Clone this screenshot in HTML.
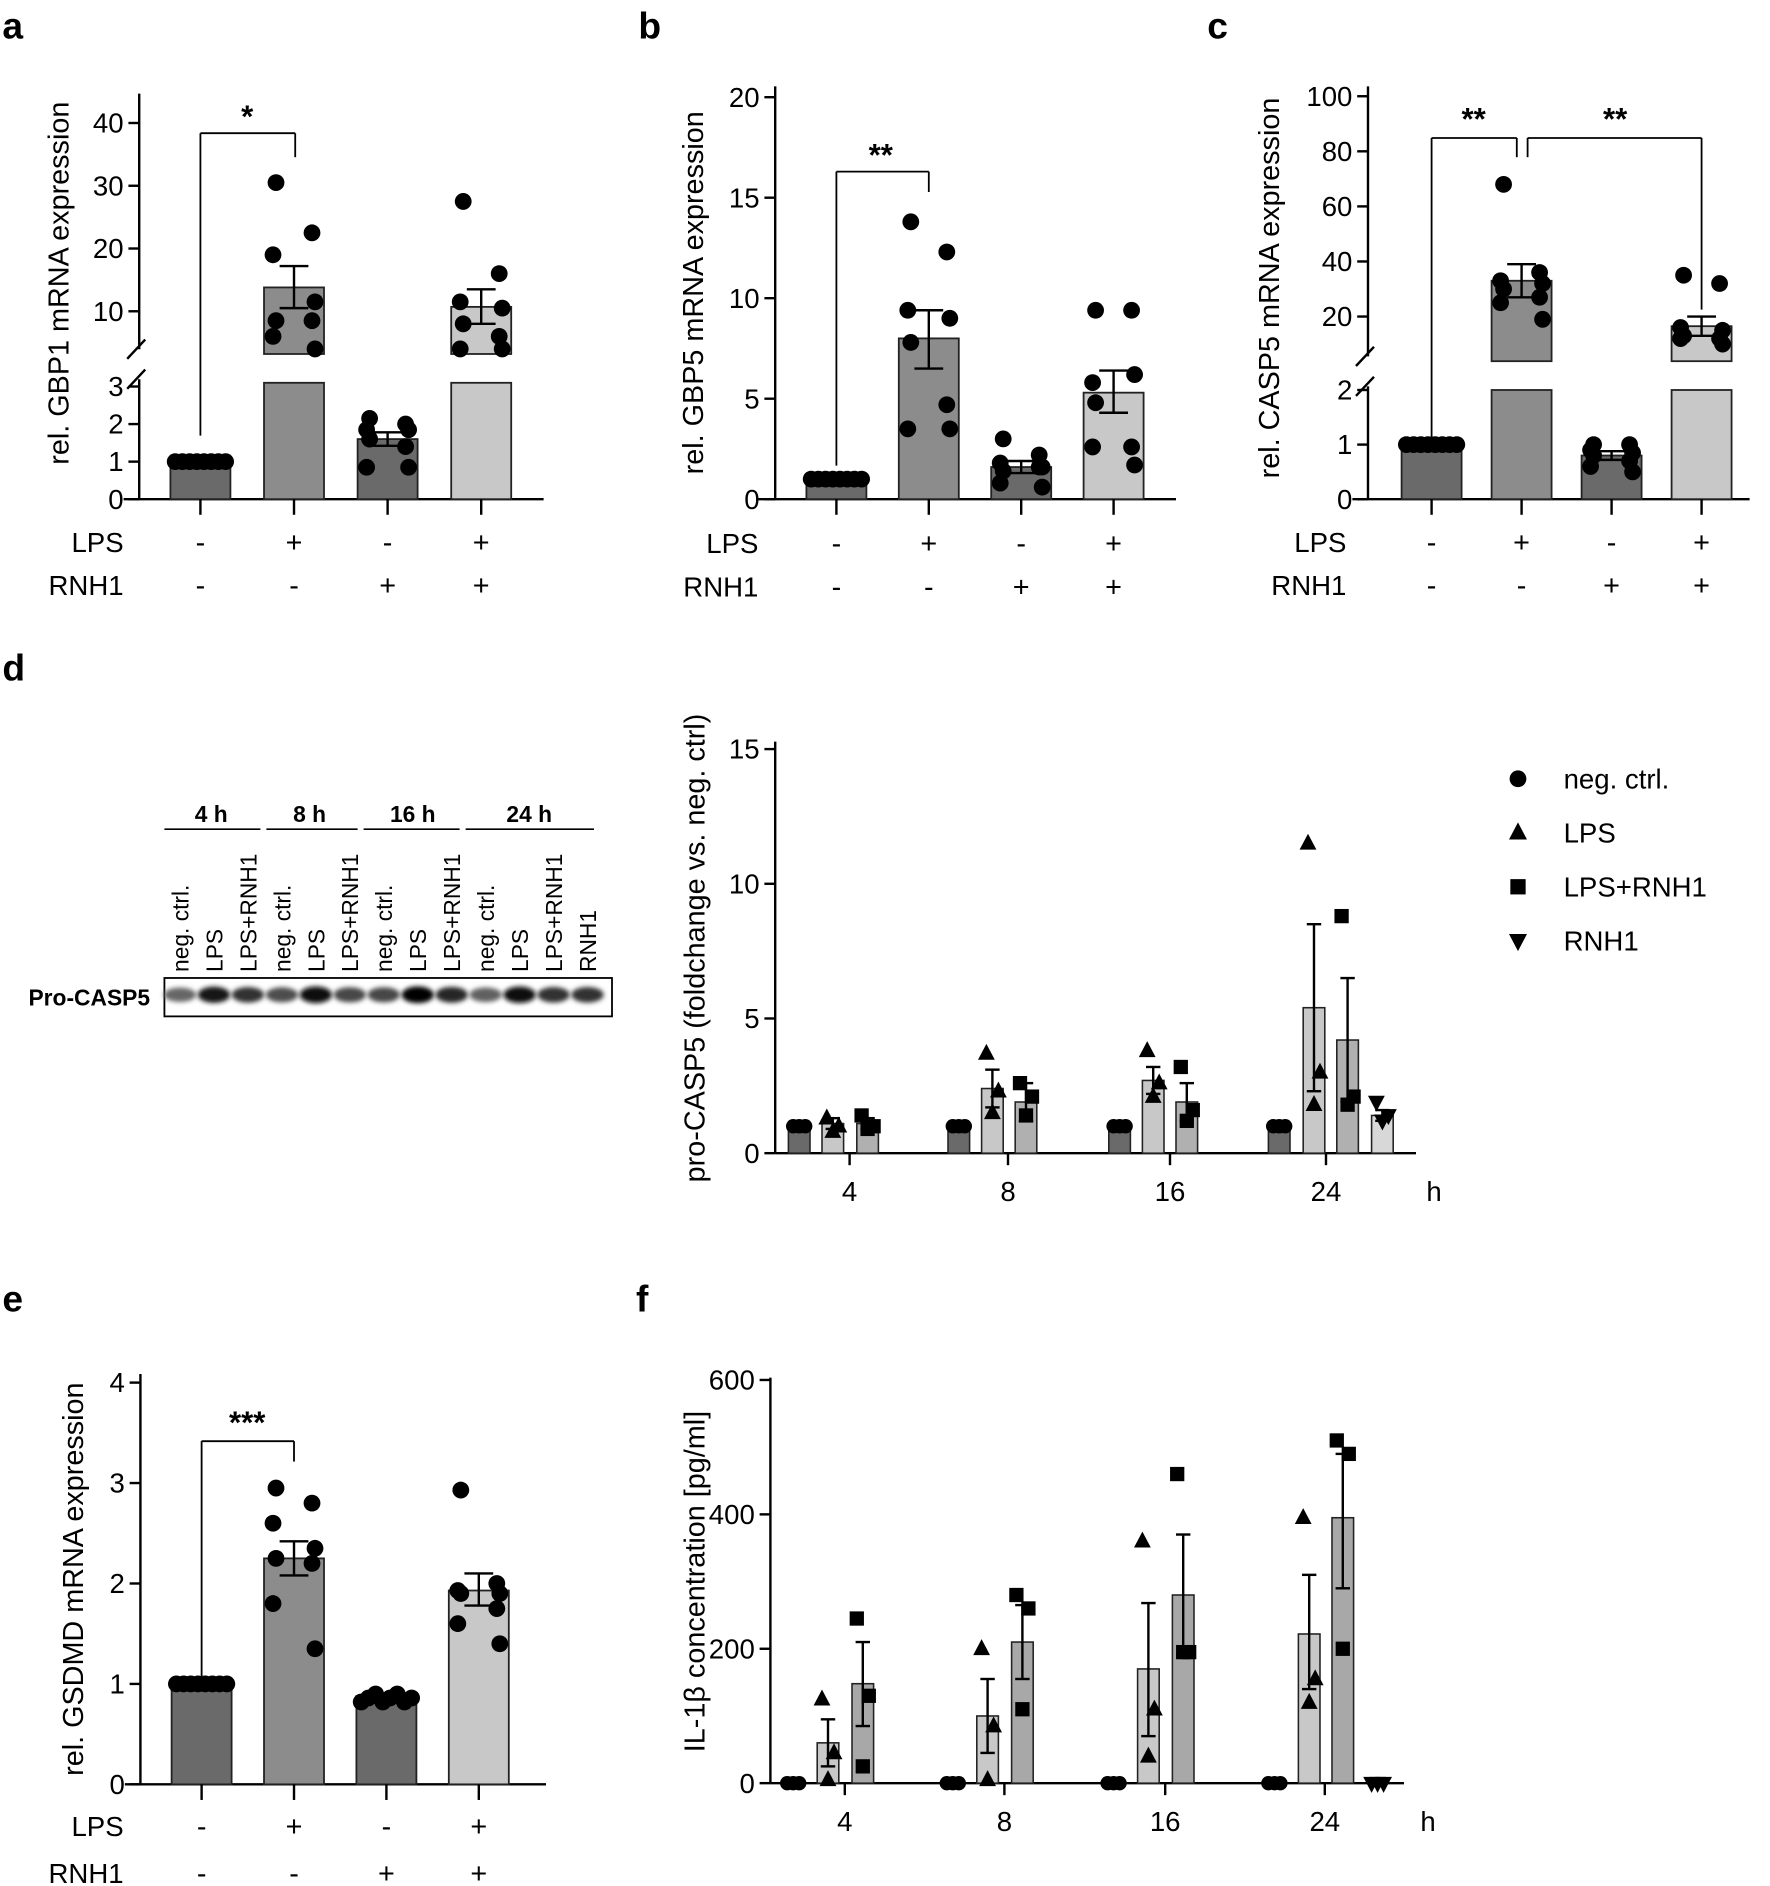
<!DOCTYPE html>
<html><head><meta charset="utf-8">
<style>
html,body{margin:0;padding:0;background:#fff;}
svg{display:block;font-family:"Liberation Sans",Arial,sans-serif;}
</style></head>
<body>
<svg id="s" width="1770" height="1886" viewBox="0 0 1475 1571.7" xmlns="http://www.w3.org/2000/svg">
<defs><filter id="bl" x="-50%" y="-100%" width="200%" height="300%"><feGaussianBlur stdDeviation="2"/></filter></defs>
<g font-weight="bold" font-size="31">
<text x="2" y="32">a</text><text x="532" y="32">b</text><text x="1006" y="32">c</text>
<text x="2" y="567">d</text><text x="2" y="1093">e</text><text x="530" y="1093">f</text>
</g>
<g font-size="23">
<text x="103" y="460" text-anchor="end">LPS</text><text x="103" y="496" text-anchor="end">RNH1</text>
<text x="632" y="461" text-anchor="end">LPS</text><text x="632" y="497" text-anchor="end">RNH1</text>
<text x="1122" y="460" text-anchor="end">LPS</text><text x="1122" y="496" text-anchor="end">RNH1</text>
<text x="103" y="1530" text-anchor="end">LPS</text><text x="103" y="1569" text-anchor="end">RNH1</text>
</g>
<g font-size="24" text-anchor="middle">
<text transform="translate(57,236) rotate(-90)">rel. GBP1 mRNA expression</text>
<text transform="translate(586,244) rotate(-90)">rel. GBP5 mRNA expression</text>
<text transform="translate(1066,240) rotate(-90)">rel. CASP5 mRNA expression</text>
<text transform="translate(587,790) rotate(-90)">pro-CASP5 (foldchange vs. neg. ctrl)</text>
<text transform="translate(69,1316) rotate(-90)">rel. GSDMD mRNA expression</text>
<text transform="translate(587,1318) rotate(-90)">IL-1β concentration [pg/ml]</text>
</g>
<g font-size="23">
<text x="1303" y="657">neg. ctrl.</text><text x="1303" y="702">LPS</text>
<text x="1303" y="747">LPS+RNH1</text><text x="1303" y="792">RNH1</text>
</g>
<g id="g"></g>
</svg>
<script>
var NS="http://www.w3.org/2000/svg",G=document.getElementById('g');
function el(t,a,txt){var e=document.createElementNS(NS,t);for(var k in a)e.setAttribute(k,a[k]);if(txt!=null)e.textContent=txt;G.appendChild(e);return e;}
function line(x1,y1,x2,y2,w){el('line',{x1:x1,y1:y1,x2:x2,y2:y2,stroke:'#000','stroke-width':w||2});}
function txt(x,y,s,fs,anc,extra){var a={x:x,y:y,'font-size':fs||20,'text-anchor':anc||'middle'};for(var k in extra)a[k]=extra[k];el('text',a,s);}
function mark(t,x,y,r){
 if(t=='c')el('circle',{cx:x,cy:y,r:r});
 else if(t=='t')el('polygon',{points:(x)+','+(y-r*1.15)+' '+(x-r)+','+(y+r*0.75)+' '+(x+r)+','+(y+r*0.75)});
 else if(t=='s')el('rect',{x:x-r*0.85,y:y-r*0.85,width:r*1.7,height:r*1.7});
 else if(t=='v')el('polygon',{points:(x)+','+(y+r*1.15)+' '+(x-r)+','+(y-r*0.75)+' '+(x+r)+','+(y-r*0.75)});
}
function spread(x,pts,w){var n=pts.length,out=[];for(var i=0;i<n;i++){var off=((i%3)-1)*w*0.36; if(n>4)off=[ -0.3,0.3,-0.35,0.35,-0.3,0.3,-0.35,0.35][i]*w; out.push([x+off,pts[i]]);}return out;}
function errbar(x,y1,y2,cw){line(x,y1,x,y2,2);line(x-cw,y1,x+cw,y1,2);line(x-cw,y2,x+cw,y2,2);}
var TF=23;
function drawBars(P){
 P.bars.forEach(function(b,i){
  var x=P.cx[i],w=50,v=b.v,m=P.map;
  if(P.brk!=null && v>P.brk){
   el('rect',{x:x-w/2,y:m(v),width:w,height:P.brkU+4-m(v),fill:b.c,stroke:'#222','stroke-width':1.5});
   el('rect',{x:x-w/2,y:P.brkL+3,width:w,height:P.y0-P.brkL-3,fill:b.c,stroke:'#222','stroke-width':1.5});
  } else el('rect',{x:x-w/2,y:m(v),width:w,height:P.y0-m(v),fill:b.c,stroke:'#222','stroke-width':1.5});
  if(b.e)errbar(x,m(b.e[0]),m(b.e[1]),12);
  if(b.allSame){for(var k=0;k<8;k++)mark('c',x-21+k*6,m(b.allSame==2?(0.82+0.04*(k%3)):b.v),7);}
  else spread(x,b.p,w).forEach(function(q){mark('c',q[0],m(q[1]),7);});
  line(x,P.y0,x,P.y0+13,2);
  txt(x,P.r1,b.l1,24);txt(x,P.r2,b.l2,24);
 });
}
function brokenPanel(P){
 var ax=P.ax;
 line(ax,P.top,ax,P.brkU,2);line(ax,P.brkL,ax,P.y0,2);
 line(ax-10,P.brkU+8,ax+5,P.brkU-8,2);line(ax-10,P.brkL+8,ax+5,P.brkL-8,2);
 line(P.x0,P.y0,P.x1,P.y0,2);
 P.ticks.forEach(function(t){var y=P.map(t);line(ax-9,y,ax,y,2);txt(ax-13,y+8,String(t),TF,'end');});
 drawBars(P);
}
function simplePanel(P){
 var ax=P.ax;line(ax,P.top,ax,P.y0,2);line(P.x0,P.y0,P.x1,P.y0,2);
 P.ticks.forEach(function(t){var y=P.map(t);line(ax-9,y,ax,y,2);txt(ax-13,y+8,String(t),TF,'end');});
 drawBars(P);
}
// a
brokenPanel({ax:116,top:78,brkU:291,brkL:316,y0:416,x0:103,x1:453,brk:3,r1:460,r2:496,
 map:function(v){return v<=3?416-31.3*v:311.7-5.23*v;},ticks:[0,1,2,3,10,20,30,40],cx:[167,245,323,401],
 bars:[{v:1,c:'#6a6a6a',allSame:1,l1:'-',l2:'-'},
 {v:13.8,c:'#8c8c8c',e:[10.5,17.2],p:[30.5,22.5,19,11.5,8.5,8.5,6,4],l1:'+',l2:'-'},
 {v:1.6,c:'#6a6a6a',e:[1.42,1.78],p:[2.15,2.0,1.85,1.85,1.6,1.4,0.85,0.85],l1:'-',l2:'+'},
 {v:10.7,c:'#c8c8c8',e:[8,13.5],p:[27.5,16,11.5,10.5,8,6,4,4],l1:'+',l2:'+'}]});
line(167,363,167,111,1.5);line(167,111,246,111,1.5);line(246,111,246,131,1.5);
txt(206,106,'*',26,'middle',{'font-weight':'bold'});
// b
simplePanel({ax:646,top:72,y0:416,x0:632,x1:980,r1:461,r2:497,map:function(v){return 416-16.75*v;},ticks:[0,5,10,15,20],cx:[697,774,851,928],
 bars:[{v:1,c:'#6a6a6a',allSame:1,l1:'-',l2:'-'},
 {v:8.0,c:'#8c8c8c',e:[6.5,9.4],p:[13.8,12.3,9.4,9.0,7.8,4.7,3.5,3.5],l1:'+',l2:'-'},
 {v:1.6,c:'#6a6a6a',e:[1.3,1.9],p:[3.0,2.2,1.8,1.6,1.4,1.6,0.8,0.6],l1:'-',l2:'+'},
 {v:5.3,c:'#c8c8c8',e:[4.3,6.4],p:[9.4,9.4,5.8,6.2,4.8,2.6,2.6,1.7],l1:'+',l2:'+'}]});
line(697,143,774,143,1.5);line(697,143,697,388,1.5);line(774,143,774,160,1.5);
txt(734,138,'**',26,'middle',{'font-weight':'bold'});
// c
brokenPanel({ax:1140,top:72,brkU:297,brkL:322,y0:416,x0:1127,x1:1458,brk:2,r1:460,r2:496,
 map:function(v){return v<=2?416-45.5*v:309.7-2.295*v;},ticks:[0,1,2,20,40,60,80,100],cx:[1193,1268,1343,1418],
 bars:[{v:1,c:'#6a6a6a',allSame:1,l1:'-',l2:'-'},
 {v:33,c:'#8c8c8c',e:[27,39],p:[68,36,33,32,30,27,25,19],l1:'+',l2:'-'},
 {v:0.8,c:'#6a6a6a',e:[0.72,0.88],p:[1.0,1.0,0.9,0.85,0.8,0.7,0.6,0.5],l1:'-',l2:'+'},
 {v:16.5,c:'#c8c8c8',e:[13,20],p:[35,32,16,15,13,12,12,10],l1:'+',l2:'+'}]});
line(1193,115,1193,368,1.5);line(1193,115,1264,115,1.5);line(1264,115,1264,131,1.5);
line(1273,131,1273,115,1.5);line(1273,115,1418,115,1.5);line(1418,115,1418,258,1.5);
txt(1228,108,'**',26,'middle',{'font-weight':'bold'});txt(1346,108,'**',26,'middle',{'font-weight':'bold'});
// e
simplePanel({ax:117,top:1145,y0:1487,x0:104,x1:455,r1:1530,r2:1569,map:function(v){return 1487-83.7*v;},ticks:[0,1,2,3,4],cx:[168,245,322,399],
 bars:[{v:1.0,c:'#6a6a6a',allSame:1,l1:'-',l2:'-'},
 {v:2.25,c:'#8c8c8c',e:[2.08,2.42],p:[2.95,2.8,2.6,2.35,2.25,2.2,1.8,1.35],l1:'+',l2:'-'},
 {v:0.88,c:'#6a6a6a',allSame:2,l1:'-',l2:'+'},
 {v:1.93,c:'#c8c8c8',e:[1.78,2.1],p:[2.93,2.0,1.93,1.9,1.9,1.75,1.6,1.4],l1:'+',l2:'+'}]});
line(168,1201,168,1400,1.5);line(168,1201,245,1201,1.5);line(245,1201,245,1218,1.5);
txt(206,1194,'***',26,'middle',{'font-weight':'bold'});
function grouped(G2){var ax=G2.ax,y0=G2.y0,m=G2.map;
 line(ax,G2.top,ax,y0,2);line(ax,y0,G2.x1,y0,2);
 G2.ticks.forEach(function(t){line(ax-9,m(t),ax,m(t),2);txt(ax-13,m(t)+8,String(t),TF,'end');});
 G2.groups.forEach(function(g){line(g.c,y0,g.c,y0+10,2);txt(g.c,y0+40,g.l,23);});
 txt(G2.hx,y0+40,'h',23);
 G2.bars.forEach(function(b){var w=18;
  if(b.v>0)el('rect',{x:b.x-w/2,y:m(b.v),width:w,height:y0-m(b.v),fill:b.c,stroke:'#222','stroke-width':1.3});
  if(b.e)errbar(b.x,m(b.e[0]),m(b.e[1]),6);
  var off=[-5,5,0,-5,5];
  b.p.forEach(function(v,k){mark(b.t,b.x+(b.p.length>1?off[k]:0),m(v),b.t=='c'?6:7);});
 });
}
var CN='#6a6a6a',CL='#c8c8c8',CLR='#b0b0b0',CR='#d8d8d8';
grouped({ax:646,y0:961,top:618,x1:1180,hx:1195,map:function(v){return 961-22.45*v;},ticks:[0,5,10,15],
 groups:[{c:708,l:'4'},{c:840,l:'8'},{c:975,l:'16'},{c:1105,l:'24'}],
 bars:[{x:666,v:1,c:CN,t:'c',p:[1,1,1]},{x:694,v:1.1,c:CL,t:'t',e:[0.9,1.3],p:[1.3,1.0,0.8]},{x:723,v:1.1,c:CLR,t:'s',e:[0.9,1.3],p:[1.4,1.0,0.9]},
 {x:799,v:1,c:CN,t:'c',p:[1,1,1]},{x:827,v:2.4,c:CL,t:'t',e:[1.7,3.1],p:[3.7,2.3,1.5]},{x:855,v:1.9,c:CLR,t:'s',e:[1.2,2.6],p:[2.6,2.1,1.4]},
 {x:933,v:1,c:CN,t:'c',p:[1,1,1]},{x:961,v:2.7,c:CL,t:'t',e:[2.2,3.2],p:[3.8,2.6,2.1]},{x:989,v:1.9,c:CLR,t:'s',e:[1.2,2.6],p:[3.2,1.6,1.2]},
 {x:1066,v:1,c:CN,t:'c',p:[1,1,1]},{x:1095,v:5.4,c:CL,t:'t',e:[2.3,8.5],p:[11.5,3.0,1.8]},{x:1123,v:4.2,c:CLR,t:'s',e:[1.9,6.5],p:[8.8,2.1,1.8]},
 {x:1152,v:1.4,c:CR,t:'v',e:[1.2,1.6],p:[1.9,1.4,1.2]}]});
grouped({ax:642,y0:1486,top:1148,x1:1170,hx:1190,map:function(v){return 1486-0.56*v;},ticks:[0,200,400,600],
 groups:[{c:704,l:'4'},{c:837,l:'8'},{c:971,l:'16'},{c:1104,l:'24'}],
 bars:[{x:661,v:0,c:CN,t:'c',p:[0,0,0]},{x:690,v:60,c:CL,t:'t',e:[25,95],p:[125,45,5]},{x:719,v:148,c:'#a8a8a8',t:'s',e:[85,210],p:[245,130,25]},
 {x:794,v:0,c:CN,t:'c',p:[0,0,0]},{x:823,v:100,c:CL,t:'t',e:[45,155],p:[200,85,5]},{x:852,v:210,c:'#a8a8a8',t:'s',e:[155,265],p:[280,260,110]},
 {x:928,v:0,c:CN,t:'c',p:[0,0,0]},{x:957,v:170,c:CL,t:'t',e:[70,268],p:[360,110,40]},{x:986,v:280,c:'#a8a8a8',t:'s',e:[190,370],p:[460,195,195]},
 {x:1062,v:0,c:CN,t:'c',p:[0,0,0]},{x:1091,v:222,c:CL,t:'t',e:[140,310],p:[395,155,120]},{x:1119,v:395,c:'#a8a8a8',t:'s',e:[290,490],p:[510,490,200]},
 {x:1148,v:0,c:CR,t:'v',p:[0,0,0]}]});
mark('c',1265,649,7);mark('t',1265,694,7.5);mark('s',1265,739,7.5);mark('v',1265,784,7.5);
(function(){
 var lbl=['neg. ctrl.','LPS','LPS+RNH1','neg. ctrl.','LPS','LPS+RNH1','neg. ctrl.','LPS','LPS+RNH1','neg. ctrl.','LPS','LPS+RNH1','RNH1'];
 var inten=[0.6,0.9,0.8,0.7,0.97,0.72,0.72,1,0.85,0.62,0.95,0.8,0.8];
 [[176,'4 h'],[258,'8 h'],[344,'16 h'],[441,'24 h']].forEach(function(a){txt(a[0],685,a[1],19,'middle',{'font-weight':'bold'});});
 [[137,217],[222,298],[303,383],[388,495]].forEach(function(a){line(a[0],691,a[1],691,1.3);});
 el('rect',{x:137,y:815,width:373,height:32,fill:'#fff',stroke:'#000','stroke-width':1.5});
 for(var i=0;i<13;i++){var x=150+i*28.3;
  txt(0,0,lbl[i],19,'start',{transform:'translate('+(x+7)+',810) rotate(-90)'});
  var g=Math.round(255*(1-inten[i]));
  el('ellipse',{cx:x,cy:829,rx:13.5,ry:4.5+2.5*inten[i],fill:'rgb('+g+','+g+','+g+')',filter:'url(#bl)'});
 }
 txt(125,838,'Pro-CASP5',19,'end',{'font-weight':'bold'});
})();
</script>
</body></html>
